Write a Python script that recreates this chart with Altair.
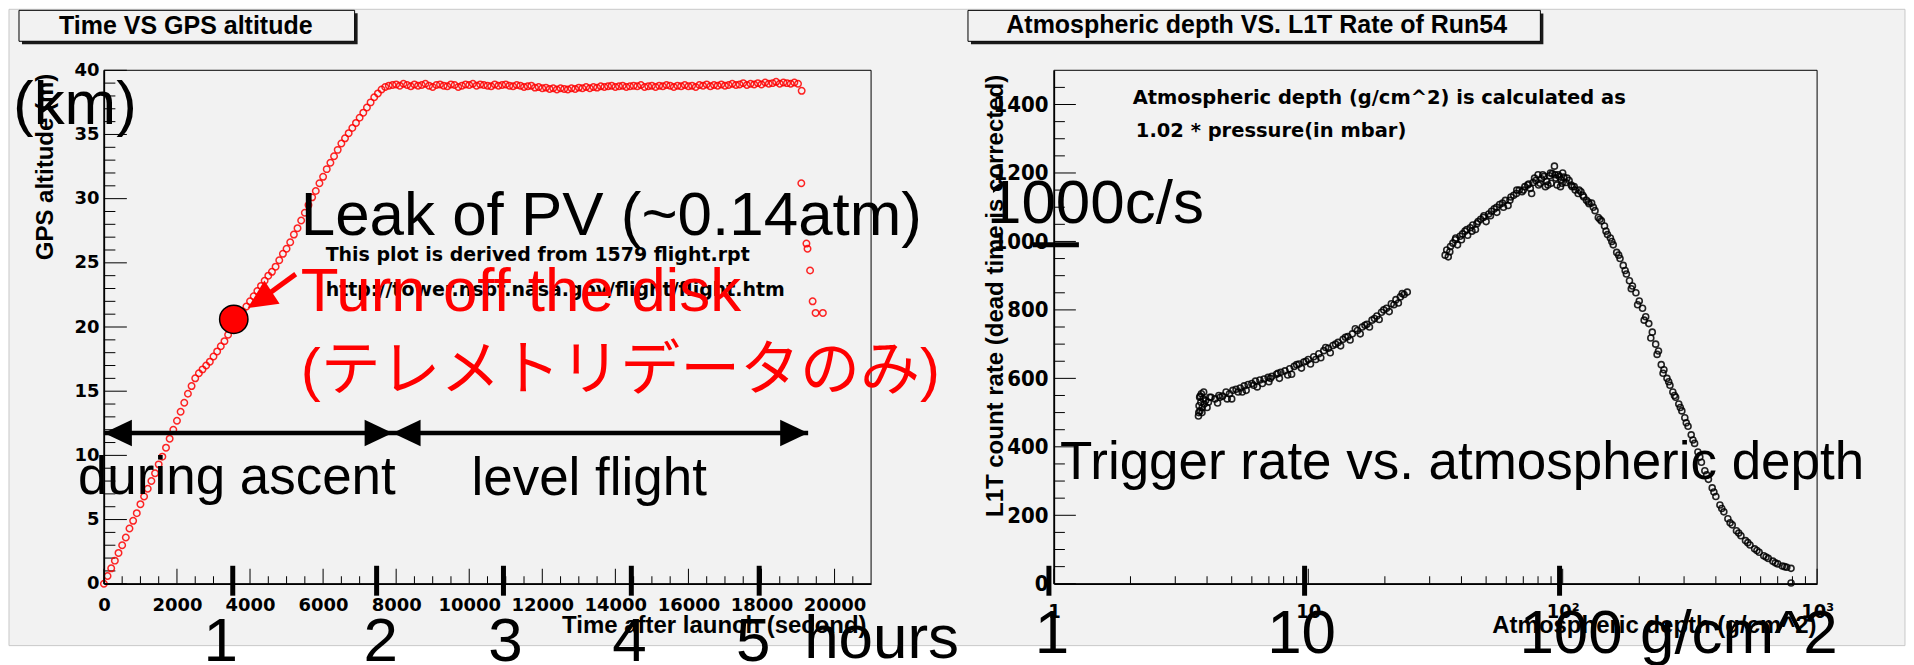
import altair as alt
import pandas as pd

# ---------------- left panel: time vs GPS altitude ----------------
ascent_time_s = [0, 100, 200, 300, 400, 500, 600, 700, 800, 900, 1000, 1100, 1200, 1300,
                 1400, 1500, 1600, 1700, 1800, 1900, 2000, 2100, 2200, 2300, 2400, 2500,
                 2600, 2700, 2800, 2900, 3000, 3100, 3200, 3300, 3400, 3500, 3600, 3700,
                 3800, 3900, 4000, 4100, 4200, 4300, 4400, 4500, 4600, 4700, 4800, 4900,
                 5000, 5100, 5200, 5300, 5400, 5500, 5600, 5700, 5800, 5900, 6000, 6100,
                 6200, 6300, 6400, 6500, 6600, 6700, 6800, 6900, 7000, 7100, 7200, 7300,
                 7400, 7500, 7600, 7700, 7800]
ascent_alt_km = [0, 0.6, 1.2, 1.8, 2.4, 3.0, 3.6, 4.3, 4.9, 5.5, 6.2, 6.8, 7.4, 8.0,
                 8.6, 9.3, 9.9, 10.6, 11.3, 12.0, 12.7, 13.4, 14.1, 14.8, 15.4, 16.0,
                 16.4, 16.7, 17.0, 17.3, 17.7, 18.1, 18.5, 18.9, 19.4, 19.9, 20.4, 20.8,
                 21.2, 21.6, 22.0, 22.4, 22.8, 23.2, 23.6, 24.0, 24.3, 24.7, 25.2, 25.7,
                 26.1, 26.6, 27.2, 27.7, 28.3, 28.9, 29.5, 30.1, 30.6, 31.2, 31.7, 32.3,
                 32.8, 33.3, 33.8, 34.3, 34.7, 35.1, 35.5, 35.9, 36.3, 36.7, 37.1, 37.5,
                 37.9, 38.2, 38.5, 38.7, 38.8]
level_time_s = [7900, 8000, 8100, 8200, 8300, 8400, 8500, 8600, 8700, 8800,
                8900, 9000, 9100, 9200, 9300, 9400, 9500, 9600, 9700, 9800,
                9900, 10000, 10100, 10200, 10300, 10400, 10500, 10600, 10700, 10800,
                10900, 11000, 11100, 11200, 11300, 11400, 11500, 11600, 11700, 11800,
                11900, 12000, 12100, 12200, 12300, 12400, 12500, 12600, 12700, 12800,
                12900, 13000, 13100, 13200, 13300, 13400, 13500, 13600, 13700, 13800,
                13900, 14000, 14100, 14200, 14300, 14400, 14500, 14600, 14700, 14800,
                14900, 15000, 15100, 15200, 15300, 15400, 15500, 15600, 15700, 15800,
                15900, 16000, 16100, 16200, 16300, 16400, 16500, 16600, 16700, 16800,
                16900, 17000, 17100, 17200, 17300, 17400, 17500, 17600, 17700, 17800,
                17900, 18000, 18100, 18200, 18300, 18400, 18500, 18600, 18700, 18800,
                18900, 19000, 19100]
level_alt_km = [38.85, 38.9, 38.8, 38.95, 38.85, 38.75, 38.9, 38.8, 38.85, 38.95,
                38.8, 38.7, 38.85, 38.9, 38.8, 38.75, 38.9, 38.85, 38.7, 38.8,
                38.9, 38.85, 38.95, 38.8, 38.9, 38.85, 38.8, 38.75, 38.9, 38.8,
                38.85, 38.9, 38.8, 38.75, 38.85, 38.8, 38.7, 38.75, 38.8, 38.65,
                38.7, 38.6, 38.65, 38.55, 38.6, 38.5, 38.6, 38.55, 38.5, 38.6,
                38.55, 38.65, 38.6, 38.7, 38.6, 38.7, 38.65, 38.75, 38.7, 38.75,
                38.8, 38.7, 38.75, 38.8, 38.7, 38.75, 38.8, 38.75, 38.85, 38.7,
                38.75, 38.8, 38.7, 38.8, 38.75, 38.85, 38.8, 38.7, 38.8, 38.75,
                38.85, 38.75, 38.8, 38.7, 38.85, 38.8, 38.9, 38.75, 38.85, 38.8,
                38.9, 38.8, 38.85, 38.95, 38.85, 38.9, 39.0, 38.85, 38.95, 38.9,
                39.0, 38.9, 39.05, 38.95, 39.0, 39.1, 38.95, 39.05, 39.0, 38.95,
                39.05, 38.95, 38.4]
tail_time_s = [19090, 19230, 19260, 19330, 19400, 19480, 19680]
tail_alt_km = [31.2, 26.5, 26.1, 24.4, 22.0, 21.1, 21.1]

# ---------------- right panel: atmospheric depth vs L1T rate ----------------
low_depth = [3.70, 3.72, 3.74, 3.75, 3.78, 3.80, 3.83, 3.86, 3.90, 3.95,
             4.00, 4.05, 4.15, 4.30, 4.40, 4.45, 4.60, 4.75, 4.90, 5.00,
             5.05, 5.20, 5.40, 5.50, 5.60, 5.80, 6.00, 6.20, 6.30, 6.45,
             6.70, 6.95, 7.00, 7.20, 7.50, 7.70, 7.80, 8.10, 8.45, 8.60,
             8.80, 9.20, 9.40, 9.60, 10.0, 10.2, 10.5, 11.0, 11.2, 11.5,
             12.0, 12.2, 12.5, 13.1, 13.4, 13.7, 14.3, 14.6, 14.9, 15.6,
             16.0, 16.3, 17.0, 17.4, 17.8, 18.6, 19.0, 19.4, 20.3, 20.8,
             21.2, 22.1, 22.6, 23.0, 23.8, 24.5,
             3.71, 3.76, 3.82, 3.88, 4.1, 4.5, 4.8, 5.3, 5.7, 6.1,
             6.6, 7.1, 7.6, 8.3, 9.0, 9.8, 10.7, 11.7, 12.8, 14.0,
             15.3, 16.7, 18.2, 19.8, 21.7, 23.4]
low_rate = [490, 520, 545, 505, 530, 555, 515, 540, 525, 535,
            515, 530, 545, 540, 528, 550, 548, 560, 555, 540,
            565, 568, 572, 560, 578, 582, 585, 592, 575, 595,
            598, 603, 590, 606, 612, 600, 618, 622, 628, 612,
            635, 642, 630, 648, 655, 642, 663, 672, 660, 681,
            688, 675, 696, 705, 695, 714, 722, 712, 730, 740,
            730, 750, 758, 750, 770, 782, 772, 793, 805, 795,
            818, 830, 820, 838, 845, 852,
            500, 548, 500, 560, 545, 545, 540, 560, 565, 580,
            585, 600, 615, 610, 640, 650, 655, 690, 700, 720,
            745, 755, 775, 800, 815, 848]
up_depth = [34.5, 35.0, 35.5, 36.2, 37.0, 37.8, 38.6, 39.5, 40.4, 41.3,
            42.3, 43.3, 44.3, 45.4, 46.5, 47.6, 48.8, 50.0, 51.2, 52.5,
            53.8, 55.1, 56.5, 58.0, 59.5, 61.0, 62.6, 64.2, 65.8, 67.5,
            69.2, 71.0, 72.8, 74.6, 75.5, 76.5, 78.4, 80.0, 80.4, 82.4,
            84.5, 85.5, 86.6, 88.8, 90.0, 91.0, 92.8, 94.0, 95.0, 96.0,
            98.0, 98.5, 100.0, 101, 103, 106, 109, 112, 115, 118,
            121, 124, 127, 130, 134, 138, 142, 146, 150, 154,
            158, 163, 168, 173, 178, 183, 188, 194, 200, 206,
            212, 218, 225, 232, 238, 244, 250, 257, 264, 271,
            278, 286, 294, 302, 311, 320, 330, 340, 351, 362,
            374, 387, 400, 415, 430, 446, 464, 482, 502, 523,
            545, 568, 592, 617, 643, 670, 700, 730, 760, 790, 790,
            36.0, 38.0, 40.0, 42.0, 44.0, 46.0, 49.0, 52.0, 55.0, 58.5,
            62.0, 66.0, 70.0, 73.5, 77.5, 81.5, 83.5, 87.5, 89.5, 93.5,
            97.0, 99.5, 104, 108, 111, 116, 120, 126, 132, 140,
            148, 156, 166, 176, 186, 197, 209, 222, 235, 248,
            261, 275, 290, 306, 325, 346, 368, 393, 422, 455,
            492, 534, 580, 630, 685, 745]
up_rate = [960, 975, 955, 985, 995, 1005, 990, 1015, 1022, 1030,
           1018, 1040, 1048, 1035, 1058, 1065, 1070, 1058, 1080, 1088,
           1095, 1085, 1108, 1112, 1120, 1105, 1130, 1135, 1140, 1150,
           1145, 1160, 1165, 1155, 1140, 1172, 1178, 1195, 1165, 1183,
           1190, 1160, 1175, 1192, 1170, 1198, 1220, 1185, 1165, 1195,
           1160, 1180, 1200, 1188, 1172, 1178, 1160, 1150, 1140, 1145,
           1130, 1120, 1110, 1112, 1090, 1070, 1060, 1045, 1020, 1010,
           990, 968, 950, 930, 905, 885, 870, 850, 826, 805,
           780, 760, 735, 700, 680, 640, 625, 600, 580, 560,
           545, 525, 505, 485, 460, 435, 410, 385, 355, 330,
           305, 280, 255, 230, 210, 190, 172, 155, 140, 126,
           113, 102, 92, 82, 74, 66, 58, 52, 48, 45, 2,
           970, 1010, 1005, 1035, 1030, 1052, 1075, 1075, 1100, 1100,
           1120, 1150, 1150, 1168, 1185, 1170, 1195, 1165, 1200, 1195,
           1190, 1170, 1185, 1165, 1160, 1150, 1135, 1115, 1100, 1065,
           1030, 1000, 960, 915, 862, 815, 770, 718, 670, 615,
           590, 550, 515, 470, 420, 370, 318, 268, 220, 178,
           148, 120, 97, 78, 61, 50]

# ---------------- axis ticks ----------------
left_x_major = [0, 2000, 4000, 6000, 8000, 10000, 12000, 14000, 16000, 18000, 20000]
left_x_minor = [v for v in range(500, 21000, 500) if v % 2000]
left_y_major = [0, 5, 10, 15, 20, 25, 30, 35, 40]
left_y_minor = [v for v in range(1, 40) if v % 5]
right_y_major = [0, 200, 400, 600, 800, 1000, 1200, 1400]
right_y_minor = [v for v in range(50, 1500, 50) if v % 200]
right_x_major = [1, 10, 100, 1000]
right_x_minor = [2, 3, 4, 5, 6, 7, 8, 9, 20, 30, 40, 50, 60, 70, 80, 90,
                 200, 300, 400, 500, 600, 700, 800, 900]

# hand-drawn annotation marks
hour_tick_s = [3527, 7465, 10937, 14437, 17937]
hour_label_s = [3199, 7574, 10992, 14383, 17773]
hour_labels = ["1", "2", "3", "4", "5"]
depth_tick = [0.956, 9.67, 97.2]

W1, W2, H = 768, 764, 514
BG = "#f2f2f2"
BIG = "Liberation Sans"
JP = "Liberation Sans, Noto Sans CJK JP"
ROOT_LBL = "DejaVu Sans"
ROOT_TTL = "Liberation Sans"
NARROW = "Liberation Sans Narrow, DejaVu Sans Condensed, Liberation Sans"

# ================= LEFT PANEL =================
xs1 = alt.Scale(domain=[0, 21000], nice=False, zero=False)
ys1 = alt.Scale(domain=[0, 40], nice=False, zero=False)
ax1x = alt.Axis(values=left_x_major, format="d", labelFont=ROOT_LBL, labelFontWeight="bold",
                labelFontSize=18, labelColor="black", labelPadding=13, labelFlush=False,
                labelOverlap=False, ticks=False, domainColor="black", domainWidth=1.5,
                grid=False, title="Time after launch (second)", titleFont=ROOT_TTL,
                titleFontWeight="bold", titleFontSize=24, titleColor="black", titleX=763,
                titleY=42, titleAlign="right", titleBaseline="middle", zindex=1)
ax1y = alt.Axis(values=left_y_major, format="d", labelFont=ROOT_LBL, labelFontWeight="bold",
                labelFontSize=18, labelColor="black", labelPadding=5, labelFlush=False,
                labelOverlap=False, ticks=False, domainColor="black", domainWidth=1.5,
                grid=False, title="GPS altitude (m)", titleFont=ROOT_TTL,
                titleFontWeight="bold", titleFontSize=24, titleColor="black",
                titleAngle=270, titleX=-51, titleY=3, titleAlign="right",
                titleBaseline="alphabetic", zindex=1)


def X1(f="x"):
    return alt.X(f, type="quantitative", scale=xs1, axis=ax1x)


def Y1(f="y"):
    return alt.Y(f, type="quantitative", scale=ys1, axis=ax1y)


def text1(t, x, y, size, color="black", font=BIG, align="left", baseline="alphabetic",
          weight="normal"):
    df = pd.DataFrame({"x": [x], "y": [y], "t": [t]})
    return alt.Chart(df).mark_text(align=align, baseline=baseline, font=font, fontSize=size,
                                   color=color, fontWeight=weight).encode(
        x=X1(), y=Y1(), text="t:N")


def rect1(x, x2, y, y2, **kw):
    df = pd.DataFrame({"x": [x], "x2": [x2], "y": [y], "y2": [y2]})
    return alt.Chart(df).mark_rect(**kw).encode(x=X1(), x2="x2", y=Y1(), y2="y2")


def rule1(x, x2, y, y2, **kw):
    df = pd.DataFrame({"x": x, "x2": x2, "y": y, "y2": y2})
    return alt.Chart(df).mark_rule(**kw).encode(x=X1(), x2="x2", y=Y1(), y2="y2")


bg = rect1(-2598, 49300, 44.75, -4.82, fill=BG, stroke="#c8c8c8", strokeWidth=1)
t1_shadow = rect1(-2242, 6945, 44.44, 42.02, fill="#1a1a1a")
t1_box = rect1(-2324, 6863, 44.67, 42.26, fill=BG, stroke="black", strokeWidth=1)
t1_text = text1("Time VS GPS altitude", 2242, 43.42, 25, font=ROOT_TTL, align="center",
                baseline="middle", weight="bold")

lx_major = alt.Chart(pd.DataFrame({"x": left_x_major})).mark_rule(color="black").encode(
    x=X1(), y=alt.value(H), y2=alt.value(H - 15))
lx_minor = alt.Chart(pd.DataFrame({"x": left_x_minor})).mark_rule(color="black").encode(
    x=X1(), y=alt.value(H), y2=alt.value(H - 7.5))
ly_major = alt.Chart(pd.DataFrame({"y": left_y_major})).mark_rule(color="black").encode(
    y=Y1(), x=alt.value(0), x2=alt.value(23))
ly_minor = alt.Chart(pd.DataFrame({"y": left_y_minor})).mark_rule(color="black").encode(
    y=Y1(), x=alt.value(0), x2=alt.value(11.5))

flight = pd.DataFrame({
    "x": ascent_time_s + level_time_s + tail_time_s,
    "y": ascent_alt_km + level_alt_km + tail_alt_km,
})
pts1 = alt.Chart(flight).mark_point(shape="circle", filled=False, color="#ff0000",
                                    size=42, strokeWidth=1.5, opacity=0.85).encode(
    x=X1(), y=Y1())
frame1 = alt.Chart(pd.DataFrame({"x": [0]})).mark_rect(
    filled=False, stroke="black", strokeWidth=1).encode(
    x=alt.value(0), x2=alt.value(W1), y=alt.value(0), y2=alt.value(H))

info1 = text1("This plot is derived from 1579 flight.rpt", 6070, 25.6, 19, font=ROOT_LBL,
              baseline="middle", weight="bold")
info2 = text1("http://tower.nsbf.nasa.gov/flight/flight.htm", 6070, 22.85, 19,
              font=ROOT_LBL, baseline="middle", weight="bold")

km = text1("(km)", -2488, 35.8, 62)
leak = text1("Leak of PV (~0.14atm)", 5387, 27.2, 62)
turn = text1("Turn off the disk", 5387, 21.25, 62, color="#ff0000")
tele = text1("(テレメトリデータのみ)", 5387, 15.1, 60, color="#ff0000", font=JP)

red_line = rule1([5250], [4268], [24.12], [22.09], color="#ff0000", strokeWidth=5)
red_head = alt.Chart(pd.DataFrame({"x": [3938], "y": [21.48]})).mark_point(
    shape="M1,0L-1,-0.96L-1,0.96Z", filled=True, color="#ff0000", size=841, opacity=1,
    angle=146.9, xOffset=12.1, yOffset=-7.9).encode(x=X1(), y=Y1())
red_dot = alt.Chart(pd.DataFrame({"x": [3555], "y": [20.6]})).mark_point(
    shape="circle", filled=True, fill="#ff0000", stroke="black", strokeWidth=1.5,
    size=804, opacity=1).encode(x=X1(), y=Y1())

arrow_line = rule1([0], [19277], [11.75], [11.75], color="black", strokeWidth=4.5)
head_l = alt.Chart(pd.DataFrame({"x": [0, 7902], "y": [11.75, 11.75]})).mark_point(
    shape="M-1,0L1,-0.95L1,0.95Z", filled=True, color="black", size=784, opacity=1,
    xOffset=14).encode(x=X1(), y=Y1())
head_r = alt.Chart(pd.DataFrame({"x": [7902, 19277], "y": [11.75, 11.75]})).mark_point(
    shape="M1,0L-1,-0.95L-1,0.95Z", filled=True, color="black", size=784, opacity=1,
    xOffset=-14).encode(x=X1(), y=Y1())
ascent_lbl = text1("during ascent", -711, 7.0, 53)
level_lbl = text1("level flight", 10062, 6.93, 53)

hour_ticks = rule1(hour_tick_s, hour_tick_s, [1.40] * 5, [-0.93] * 5, color="black",
                   strokeWidth=5)
hour_txt = alt.Chart(pd.DataFrame({"x": hour_label_s, "y": [-5.99] * 5, "t": hour_labels})
                     ).mark_text(align="center", baseline="alphabetic", font=BIG,
                                 fontSize=62, color="black").encode(x=X1(), y=Y1(), text="t:N")
hours_word = text1("hours", 19168, -5.76, 62)

left = alt.layer(
    bg, t1_shadow, t1_box, t1_text, lx_minor, lx_major, ly_minor, ly_major, pts1, frame1,
    info1, info2, km, leak, red_line, red_head, red_dot, turn, tele, arrow_line, head_l,
    head_r, ascent_lbl, level_lbl, hour_ticks, hour_txt, hours_word
).properties(width=W1, height=H)

# ================= RIGHT PANEL =================
xs2 = alt.Scale(type="log", domain=[1, 1000], nice=False)
ys2 = alt.Scale(domain=[0, 1500], nice=False, zero=False)
ax2x = alt.Axis(values=right_x_major,
                labelExpr="datum.value == 1 ? '1' : datum.value == 10 ? '10' : "
                          "datum.value == 100 ? '10²' : '10³'",
                labelFont=NARROW, labelFontWeight="bold", labelFontSize=20,
                labelColor="black", labelPadding=18, labelFlush=False, labelOverlap=False,
                ticks=False, domainColor="black", domainWidth=1.5, grid=False,
                title="Atmospheric depth (g/cm^2)", titleFont=ROOT_TTL,
                titleFontWeight="bold", titleFontSize=24, titleColor="black", titleX=763,
                titleY=42, titleAlign="right", titleBaseline="middle", zindex=1)
ax2y = alt.Axis(values=right_y_major, format="d", labelFont=NARROW, labelFontWeight="bold",
                labelFontSize=22, labelColor="black", labelPadding=6, labelFlush=False,
                labelOverlap=False, ticks=False, domainColor="black", domainWidth=1.5,
                grid=False, title="L1T count rate (dead time is corrected)",
                titleFont=ROOT_TTL, titleFontWeight="bold", titleFontSize=24,
                titleColor="black", titleAngle=270, titleX=-51, titleY=4,
                titleAlign="right", titleBaseline="alphabetic", zindex=1)


def X2(f="x"):
    return alt.X(f, type="quantitative", scale=xs2, axis=ax2x)


def Y2(f="y"):
    return alt.Y(f, type="quantitative", scale=ys2, axis=ax2y)


def text2(t, x, y, size, color="black", font=BIG, align="left", baseline="alphabetic",
          weight="normal"):
    df = pd.DataFrame({"x": [x], "y": [y], "t": [t]})
    return alt.Chart(df).mark_text(align=align, baseline=baseline, font=font, fontSize=size,
                                   color=color, fontWeight=weight).encode(
        x=X2(), y=Y2(), text="t:N")


def rect2(x, x2, y, y2, **kw):
    df = pd.DataFrame({"x": [x], "x2": [x2], "y": [y], "y2": [y2]})
    return alt.Chart(df).mark_rect(**kw).encode(x=X2(), x2="x2", y=Y2(), y2="y2")


def rule2(x, x2, y, y2, **kw):
    df = pd.DataFrame({"x": x, "x2": x2, "y": y, "y2": y2})
    return alt.Chart(df).mark_rule(**kw).encode(x=X2(), x2="x2", y=Y2(), y2="y2")


t2_shadow = rect2(0.4721, 83.95, 1666.2, 1575.8, fill="#1a1a1a")
t2_box = rect2(0.4595, 81.7, 1675, 1584.6, fill=BG, stroke="black", strokeWidth=1)
t2_text = text2("Atmospheric depth VS. L1T Rate of Run54", 6.27, 1631, 25, font=ROOT_TTL,
                align="center", baseline="middle", weight="bold")

rx_major = alt.Chart(pd.DataFrame({"x": right_x_major})).mark_rule(color="black").encode(
    x=X2(), y=alt.value(H), y2=alt.value(H - 15))
rx_minor = alt.Chart(pd.DataFrame({"x": right_x_minor})).mark_rule(color="black").encode(
    x=X2(), y=alt.value(H), y2=alt.value(H - 7.5))
ry_major = alt.Chart(pd.DataFrame({"y": right_y_major})).mark_rule(color="black").encode(
    y=Y2(), x=alt.value(0), x2=alt.value(22))
ry_minor = alt.Chart(pd.DataFrame({"y": right_y_minor})).mark_rule(color="black").encode(
    y=Y2(), x=alt.value(0), x2=alt.value(11))

rate_df = pd.DataFrame({"x": low_depth + up_depth, "y": low_rate + up_rate})
pts2 = alt.Chart(rate_df).mark_point(shape="circle", filled=False, color="#000000",
                                     size=36, strokeWidth=1.6, opacity=0.85).encode(
    x=X2(), y=Y2())
frame2 = alt.Chart(pd.DataFrame({"x": [1]})).mark_rect(
    filled=False, stroke="black", strokeWidth=1).encode(
    x=alt.value(0), x2=alt.value(W2), y=alt.value(0), y2=alt.value(H))

calc1 = text2("Atmospheric depth (g/cm^2) is calculated as", 2.04, 1418, 19.5,
              font=ROOT_LBL, baseline="middle", weight="bold")
calc2 = text2("1.02 * pressure(in mbar)", 2.10, 1322, 19.5, font=ROOT_LBL,
              baseline="middle", weight="bold")

rate_lbl = text2("1000c/s", 0.5457, 1053.5, 62)
rate_tick = rule2([0.827], [1.254], [990], [990], color="black", strokeWidth=5)
trig = text2("Trigger rate vs. atmospheric depth", 1.056, 306, 53)
depth_ticks = rule2(depth_tick, depth_tick, [52.5] * 3, [-35] * 3, color="black",
                    strokeWidth=5)
d1 = text2("1", 0.982, -201.4, 62, align="center")
d10 = text2("10", 9.41, -201.4, 62, align="center")
d100 = text2("100 g/cm^2", 67.6, -201.4, 62)

right = alt.layer(
    t2_shadow, t2_box, t2_text, rx_minor, rx_major, ry_minor, ry_major, pts2, frame2,
    calc1, calc2, rate_lbl, rate_tick, trig, depth_ticks, d1, d10, d100
).properties(width=W2, height=H)

chart = alt.hconcat(left, right, spacing=183, bounds="flush").properties(
    padding=0, background="white"
).configure_view(strokeWidth=0)

chart.save("out.html", embed_options={"renderer": "svg", "actions": False})
